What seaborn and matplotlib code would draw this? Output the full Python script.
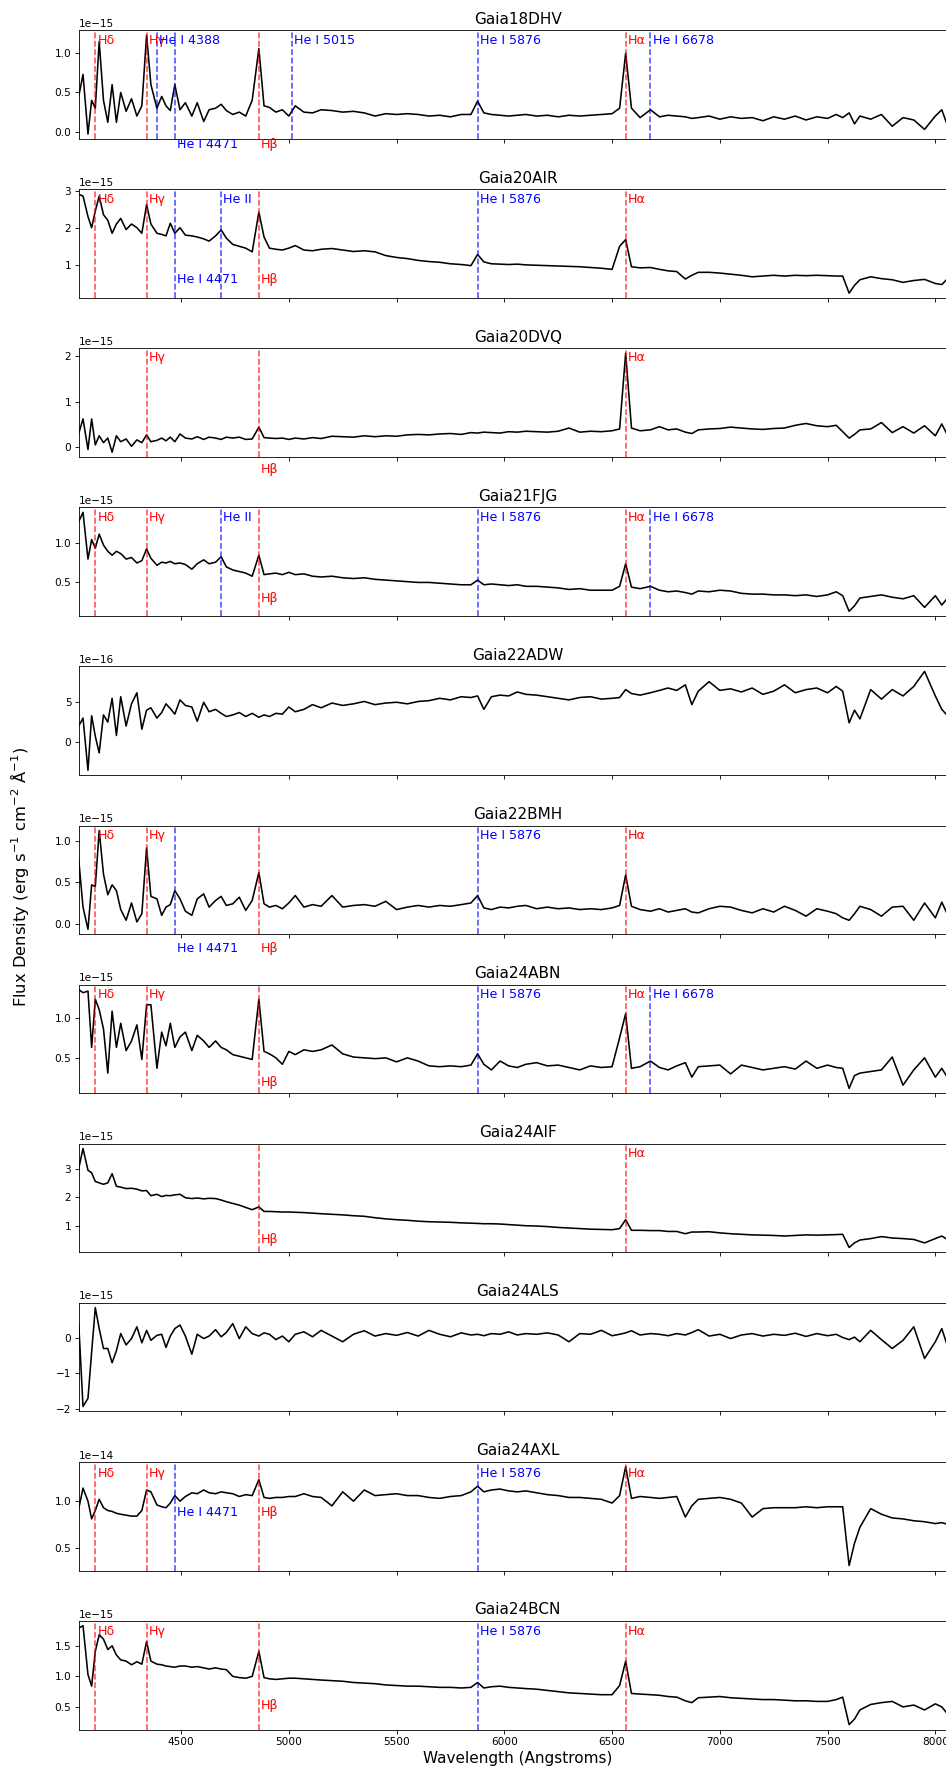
import numpy as np
import matplotlib
matplotlib.use("Agg")
import matplotlib.pyplot as plt
import seaborn as sns

# Wavelength samples (Angstroms) shared by every spectrum
wave = [4025, 4045, 4068, 4085, 4102, 4120, 4140, 4160, 4180, 4200,
        4220, 4245, 4270, 4295, 4318, 4340, 4360, 4388, 4410, 4430,
        4450, 4471, 4495, 4520, 4550, 4575, 4605, 4630, 4660, 4686,
        4710, 4740, 4770, 4800, 4830, 4861, 4885, 4910, 4940, 4970,
        5000, 5030, 5070, 5110, 5150, 5200, 5250, 5300, 5350, 5400,
        5450, 5500, 5550, 5600, 5650, 5700, 5750, 5800, 5845, 5876,
        5905, 5940, 5980, 6020, 6060, 6100, 6150, 6200, 6250, 6300,
        6350, 6400, 6450, 6500, 6535, 6563, 6590, 6630, 6678, 6720,
        6760, 6800, 6840, 6870, 6900, 6950, 7000, 7050, 7100, 7150,
        7200, 7250, 7300, 7350, 7400, 7450, 7500, 7540, 7570, 7600,
        7625, 7650, 7700, 7750, 7800, 7850, 7900, 7950, 8000, 8030, 8060]

# flux values, in units of `units` below
flux_18dhv = [0.45, 0.73, -0.03, 0.40, 0.30, 1.15, 0.40, 0.12, 0.60, 0.12,
              0.50, 0.26, 0.42, 0.20, 0.33, 1.23, 0.60, 0.30, 0.45, 0.33,
              0.27, 0.60, 0.28, 0.37, 0.20, 0.37, 0.13, 0.28, 0.30, 0.35,
              0.27, 0.22, 0.25, 0.20, 0.40, 1.06, 0.33, 0.31, 0.25, 0.28,
              0.20, 0.33, 0.25, 0.24, 0.28, 0.27, 0.25, 0.26, 0.24, 0.20,
              0.23, 0.22, 0.23, 0.22, 0.20, 0.21, 0.19, 0.22, 0.22, 0.39,
              0.24, 0.22, 0.21, 0.20, 0.21, 0.22, 0.20, 0.21, 0.19, 0.21,
              0.20, 0.21, 0.22, 0.23, 0.30, 1.00, 0.30, 0.18, 0.28, 0.19,
              0.21, 0.20, 0.19, 0.17, 0.18, 0.20, 0.16, 0.19, 0.17, 0.18,
              0.14, 0.19, 0.16, 0.20, 0.15, 0.19, 0.17, 0.22, 0.18, 0.24,
              0.10, 0.20, 0.16, 0.22, 0.07, 0.18, 0.15, 0.03, 0.20, 0.28, 0.05]

flux_20air = [2.90, 2.85, 2.30, 2.00, 2.45, 2.85, 2.35, 2.20, 1.85, 2.10,
              2.25, 1.95, 2.10, 2.00, 1.85, 2.62, 2.10, 1.85, 1.82, 1.78,
              2.12, 1.85, 2.00, 1.80, 1.78, 1.75, 1.70, 1.64, 1.78, 1.94,
              1.72, 1.55, 1.50, 1.45, 1.35, 2.42, 1.75, 1.45, 1.42, 1.40,
              1.45, 1.52, 1.40, 1.38, 1.42, 1.44, 1.40, 1.36, 1.38, 1.35,
              1.25, 1.20, 1.17, 1.12, 1.09, 1.07, 1.03, 1.01, 0.98, 1.28,
              1.08, 1.03, 1.02, 1.01, 1.02, 1.00, 0.99, 0.98, 0.97, 0.96,
              0.95, 0.93, 0.91, 0.88, 1.50, 1.68, 0.95, 0.92, 0.93, 0.88,
              0.84, 0.82, 0.62, 0.72, 0.80, 0.80, 0.78, 0.75, 0.72, 0.68,
              0.70, 0.72, 0.70, 0.72, 0.71, 0.72, 0.71, 0.70, 0.70, 0.24,
              0.45, 0.60, 0.68, 0.63, 0.60, 0.53, 0.58, 0.61, 0.50, 0.47, 0.65]

flux_20dvq = [0.30, 0.62, -0.05, 0.62, 0.05, 0.25, 0.10, 0.20, -0.11, 0.25,
              0.12, 0.18, 0.02, 0.16, 0.10, 0.27, 0.12, 0.15, 0.20, 0.14,
              0.22, 0.12, 0.29, 0.20, 0.18, 0.23, 0.17, 0.22, 0.20, 0.17,
              0.22, 0.20, 0.22, 0.17, 0.18, 0.44, 0.21, 0.20, 0.19, 0.20,
              0.17, 0.20, 0.18, 0.21, 0.19, 0.24, 0.23, 0.22, 0.25, 0.23,
              0.25, 0.24, 0.27, 0.28, 0.27, 0.29, 0.30, 0.28, 0.32, 0.31,
              0.33, 0.32, 0.31, 0.34, 0.33, 0.35, 0.34, 0.33, 0.35, 0.42,
              0.33, 0.35, 0.34, 0.36, 0.40, 2.06, 0.42, 0.36, 0.38, 0.45,
              0.38, 0.40, 0.33, 0.30, 0.38, 0.40, 0.41, 0.44, 0.42, 0.40,
              0.39, 0.41, 0.42, 0.48, 0.52, 0.47, 0.45, 0.48, 0.34, 0.20,
              0.28, 0.38, 0.40, 0.54, 0.32, 0.45, 0.31, 0.47, 0.25, 0.51, 0.23]

flux_21fjg = [1.28, 1.40, 0.80, 1.05, 0.94, 1.12, 0.98, 0.90, 0.85, 0.90,
              0.87, 0.80, 0.82, 0.75, 0.78, 0.93, 0.81, 0.72, 0.76, 0.75,
              0.77, 0.74, 0.75, 0.73, 0.67, 0.74, 0.79, 0.74, 0.76, 0.83,
              0.70, 0.66, 0.64, 0.62, 0.58, 0.85, 0.60, 0.61, 0.62, 0.60,
              0.63, 0.60, 0.61, 0.58, 0.57, 0.58, 0.56, 0.55, 0.56, 0.54,
              0.53, 0.52, 0.51, 0.50, 0.50, 0.49, 0.48, 0.47, 0.47, 0.53,
              0.47, 0.48, 0.47, 0.46, 0.47, 0.45, 0.45, 0.44, 0.43, 0.41,
              0.42, 0.40, 0.40, 0.40, 0.45, 0.74, 0.44, 0.42, 0.45, 0.40,
              0.38, 0.39, 0.37, 0.35, 0.39, 0.38, 0.40, 0.39, 0.36, 0.35,
              0.35, 0.34, 0.34, 0.33, 0.34, 0.32, 0.34, 0.38, 0.33, 0.13,
              0.20, 0.30, 0.32, 0.34, 0.31, 0.29, 0.33, 0.18, 0.33, 0.21, 0.31]

flux_22adw = [2.0, 3.0, -3.6, 3.3, 0.7, -1.4, 3.4, 2.5, 5.5, 0.8,
              5.7, 2.0, 4.8, 6.2, 1.6, 4.0, 4.3, 3.0, 3.7, 4.8,
              4.2, 3.5, 5.3, 4.6, 4.4, 2.6, 5.0, 3.8, 4.1, 3.6,
              3.2, 3.4, 3.7, 3.2, 3.6, 3.1, 3.4, 3.2, 3.6, 3.5,
              4.4, 3.8, 4.1, 4.7, 4.3, 4.9, 4.6, 4.8, 5.1, 4.7,
              4.9, 5.0, 4.8, 5.1, 5.2, 5.5, 5.3, 5.7, 5.6, 5.8,
              4.1, 5.7, 5.9, 5.8, 6.3, 6.0, 5.9, 5.7, 5.5, 5.3,
              5.6, 5.7, 5.4, 5.5, 5.6, 6.6, 6.1, 5.9, 6.2, 6.5,
              6.8, 6.5, 7.2, 4.7, 6.4, 7.6, 6.5, 6.7, 6.3, 6.8,
              6.0, 6.4, 7.2, 6.2, 6.6, 6.8, 6.2, 7.0, 6.4, 2.4,
              4.0, 2.9, 6.6, 5.4, 6.6, 5.8, 7.0, 8.9, 5.8, 4.1, 3.2]

flux_22bmh = [0.78, 0.20, -0.07, 0.47, 0.45, 1.13, 0.60, 0.35, 0.47, 0.40,
              0.17, 0.04, 0.25, 0.02, 0.12, 0.92, 0.33, 0.30, 0.10, 0.20,
              0.23, 0.40, 0.30, 0.15, 0.10, 0.30, 0.36, 0.20, 0.28, 0.33,
              0.22, 0.24, 0.32, 0.16, 0.28, 0.62, 0.24, 0.20, 0.22, 0.18,
              0.25, 0.34, 0.20, 0.23, 0.21, 0.34, 0.20, 0.22, 0.23, 0.21,
              0.27, 0.17, 0.20, 0.22, 0.20, 0.22, 0.21, 0.23, 0.25, 0.34,
              0.19, 0.17, 0.20, 0.19, 0.21, 0.22, 0.18, 0.20, 0.18, 0.19,
              0.17, 0.18, 0.17, 0.19, 0.22, 0.59, 0.21, 0.17, 0.15, 0.18,
              0.14, 0.16, 0.18, 0.14, 0.13, 0.18, 0.21, 0.20, 0.16, 0.13,
              0.18, 0.14, 0.21, 0.16, 0.09, 0.18, 0.15, 0.12, 0.07, 0.04,
              0.12, 0.21, 0.17, 0.09, 0.20, 0.21, 0.04, 0.25, 0.07, 0.26, 0.09]

flux_24abn = [1.35, 1.31, 1.33, 0.63, 1.23, 1.10, 0.86, 0.31, 1.08, 0.63,
              0.93, 0.59, 0.71, 0.91, 0.48, 1.16, 1.16, 0.37, 0.82, 0.65,
              0.93, 0.63, 0.76, 0.82, 0.59, 0.78, 0.71, 0.63, 0.71, 0.63,
              0.60, 0.54, 0.52, 0.50, 0.48, 1.23, 0.58, 0.55, 0.50, 0.42,
              0.58, 0.54, 0.60, 0.58, 0.60, 0.66, 0.55, 0.51, 0.50, 0.49,
              0.50, 0.45, 0.50, 0.46, 0.40, 0.39, 0.40, 0.39, 0.41, 0.55,
              0.42, 0.35, 0.46, 0.40, 0.38, 0.42, 0.44, 0.40, 0.41, 0.38,
              0.35, 0.40, 0.38, 0.39, 0.75, 1.05, 0.37, 0.39, 0.46, 0.38,
              0.35, 0.40, 0.44, 0.26, 0.39, 0.40, 0.41, 0.30, 0.41, 0.38,
              0.35, 0.37, 0.39, 0.36, 0.46, 0.37, 0.41, 0.38, 0.37, 0.12,
              0.28, 0.31, 0.33, 0.35, 0.51, 0.16, 0.35, 0.50, 0.26, 0.37, 0.24]

flux_24aif = [3.00, 3.70, 2.94, 2.85, 2.55, 2.50, 2.45, 2.50, 2.82, 2.38,
              2.35, 2.30, 2.31, 2.28, 2.22, 2.23, 2.05, 2.10, 2.02, 2.06,
              2.05, 2.08, 2.10, 1.98, 1.95, 1.97, 1.94, 1.96, 1.95, 1.90,
              1.84, 1.78, 1.72, 1.64, 1.56, 1.66, 1.50, 1.50, 1.49, 1.48,
              1.48, 1.47, 1.46, 1.44, 1.42, 1.40, 1.38, 1.35, 1.33, 1.28,
              1.24, 1.21, 1.19, 1.16, 1.14, 1.13, 1.12, 1.10, 1.09, 1.08,
              1.07, 1.07, 1.06, 1.04, 1.02, 1.00, 0.99, 0.97, 0.94, 0.92,
              0.90, 0.88, 0.87, 0.86, 0.90, 1.21, 0.84, 0.84, 0.83, 0.83,
              0.80, 0.80, 0.72, 0.78, 0.78, 0.79, 0.75, 0.72, 0.70, 0.68,
              0.67, 0.66, 0.64, 0.66, 0.68, 0.67, 0.68, 0.69, 0.70, 0.24,
              0.40, 0.50, 0.55, 0.62, 0.57, 0.55, 0.52, 0.40, 0.55, 0.64, 0.50]

flux_24als = [0.40, -1.93, -1.70, -0.40, 0.85, 0.26, -0.30, -0.30, -0.70, -0.36,
              0.12, -0.20, -0.02, 0.31, -0.14, 0.21, -0.07, 0.07, 0.10, -0.27,
              0.05, 0.26, 0.36, 0.05, -0.46, 0.10, -0.02, 0.05, 0.23, 0.03,
              0.15, 0.40, -0.02, 0.31, 0.12, 0.05, 0.14, 0.10, -0.05, 0.05,
              -0.11, 0.10, 0.17, 0.03, 0.21, 0.05, -0.11, 0.10, 0.20, 0.05,
              0.12, 0.07, 0.15, 0.05, 0.21, 0.10, 0.03, 0.14, 0.08, 0.10,
              0.06, 0.12, 0.10, 0.17, 0.08, 0.12, 0.10, 0.14, 0.08, -0.11,
              0.12, 0.10, 0.21, 0.06, 0.10, 0.14, 0.20, 0.08, 0.12, 0.10,
              0.06, 0.12, 0.08, 0.15, 0.23, 0.05, 0.10, -0.02, 0.08, 0.12,
              0.05, 0.10, 0.07, 0.13, 0.04, 0.12, 0.06, 0.10, 0.01, -0.05,
              0.02, -0.11, 0.21, -0.05, -0.30, -0.07, 0.31, -0.58, -0.11, 0.26, -0.30]

flux_24axl = [0.92, 1.14, 1.00, 0.81, 0.90, 1.02, 0.93, 0.90, 0.89, 0.87,
              0.86, 0.85, 0.84, 0.84, 0.90, 1.12, 1.10, 0.96, 0.94, 0.93,
              0.98, 1.06, 1.00, 1.05, 1.09, 1.08, 1.12, 1.09, 1.08, 1.10,
              1.09, 1.08, 1.05, 1.07, 1.06, 1.23, 1.04, 1.03, 1.04, 1.04,
              1.05, 1.05, 1.08, 1.05, 1.04, 0.95, 1.10, 1.00, 1.12, 1.06,
              1.07, 1.08, 1.06, 1.06, 1.04, 1.03, 1.05, 1.06, 1.10, 1.16,
              1.10, 1.12, 1.13, 1.11, 1.10, 1.11, 1.09, 1.07, 1.06, 1.04,
              1.04, 1.03, 1.02, 0.98, 1.06, 1.37, 1.03, 1.05, 1.04, 1.03,
              1.04, 1.05, 0.83, 0.95, 1.02, 1.03, 1.04, 1.02, 0.98, 0.83,
              0.92, 0.93, 0.93, 0.93, 0.94, 0.93, 0.94, 0.94, 0.94, 0.31,
              0.55, 0.72, 0.92, 0.86, 0.82, 0.81, 0.79, 0.78, 0.76, 0.77, 0.75]

flux_24bcn = [1.79, 1.83, 1.03, 0.84, 1.41, 1.68, 1.61, 1.44, 1.50, 1.35,
              1.27, 1.25, 1.19, 1.24, 1.20, 1.57, 1.25, 1.20, 1.19, 1.17,
              1.16, 1.15, 1.17, 1.17, 1.15, 1.16, 1.14, 1.12, 1.14, 1.12,
              1.11, 1.00, 0.98, 0.97, 1.00, 1.41, 0.98, 0.96, 0.95, 0.96,
              0.97, 0.97, 0.96, 0.95, 0.94, 0.93, 0.92, 0.90, 0.89, 0.88,
              0.86, 0.85, 0.84, 0.84, 0.83, 0.82, 0.82, 0.81, 0.82, 0.90,
              0.81, 0.83, 0.84, 0.82, 0.81, 0.80, 0.79, 0.77, 0.75, 0.73,
              0.72, 0.71, 0.70, 0.70, 0.85, 1.25, 0.72, 0.71, 0.70, 0.69,
              0.67, 0.66, 0.60, 0.57, 0.65, 0.66, 0.67, 0.65, 0.64, 0.63,
              0.62, 0.62, 0.61, 0.60, 0.60, 0.59, 0.59, 0.62, 0.66, 0.21,
              0.30, 0.45, 0.54, 0.57, 0.59, 0.50, 0.53, 0.45, 0.55, 0.50, 0.37]

titles = ["Gaia18DHV", "Gaia20AIR", "Gaia20DVQ", "Gaia21FJG", "Gaia22ADW", "Gaia22BMH",
          "Gaia24ABN", "Gaia24AIF", "Gaia24ALS", "Gaia24AXL", "Gaia24BCN"]
spectra = [flux_18dhv, flux_20air, flux_20dvq, flux_21fjg, flux_22adw, flux_22bmh,
           flux_24abn, flux_24aif, flux_24als, flux_24axl, flux_24bcn]
units = [1e-15, 1e-15, 1e-15, 1e-15, 1e-16, 1e-15, 1e-15, 1e-15, 1e-15, 1e-14, 1e-15]
yticks = [[0, 0.5, 1.0], [1, 2, 3], [0, 1, 2], [0.5, 1.0], [0, 5], [0, 0.5, 1.0],
          [0.5, 1.0], [1, 2, 3], [-2, -1, 0], [0.5, 1.0], [0.5, 1.0, 1.5]]

# emission lines
line_names = ["Hδ", "Hγ", "He I 4388", "He I 4471", "He II", "Hβ",
              "He I 5015", "He I 5876", "Hα", "He I 6678"]
line_waves = [4102, 4340, 4388, 4471, 4686, 4861, 5015, 5876, 6563, 6678]
line_colors = ["red", "red", "blue", "blue", "blue", "red", "blue", "blue", "red", "blue"]
low_names = ["He I 4471", "Hβ"]   # these labels sit at the bottom

marked = [
    ["Hδ", "Hγ", "He I 4388", "He I 4471", "Hβ", "He I 5015", "He I 5876", "Hα", "He I 6678"],
    ["Hδ", "Hγ", "He I 4471", "He II", "Hβ", "He I 5876", "Hα"],
    ["Hγ", "Hβ", "Hα"],
    ["Hδ", "Hγ", "He II", "Hβ", "He I 5876", "Hα", "He I 6678"],
    [],
    ["Hδ", "Hγ", "He I 4471", "Hβ", "He I 5876", "Hα"],
    ["Hδ", "Hγ", "Hβ", "He I 5876", "Hα", "He I 6678"],
    ["Hβ", "Hα"],
    [],
    ["Hδ", "Hγ", "He I 4471", "Hβ", "He I 5876", "Hα"],
    ["Hδ", "Hγ", "Hβ", "He I 5876", "Hα"],
]
low_label_y = [-0.16, 0.61, -0.48, 0.30, 0, -0.30, 0.19, 0.52, 0, 0.88, 0.53]

DPI = 76
fig, axes = plt.subplots(len(titles), 1, figsize=(946 / DPI, 1769 / DPI), dpi=DPI, sharex=True)
fig.subplots_adjust(left=0.0832, right=1.0115, top=0.9829, bottom=0.0223, hspace=0.462)

for i, ax in enumerate(axes):
    flux = np.asarray(spectra[i]) * units[i]
    sns.lineplot(x=wave, y=flux, ax=ax, color="black", linewidth=1.5)
    top_y = 0.95 * flux.max()
    for name in marked[i]:
        k = line_names.index(name)
        ax.axvline(line_waves[k], color=line_colors[k], linestyle="--", alpha=0.7)
        y = low_label_y[i] * units[i] if name in low_names else top_y
        ax.text(line_waves[k] + 10, y, name, color=line_colors[k], fontsize=12,
                ha="left", va="center")
    ax.set_yticks(np.asarray(yticks[i]) * units[i])
    ax.set_title(titles[i], fontsize=14.5)
    ax.set_ylabel("")

axes[-1].set_xlim(4025, 8100)
axes[-1].set_xticks([4500, 5000, 5500, 6000, 6500, 7000, 7500, 8000])
axes[-1].set_xlabel("Wavelength (Angstroms)", fontsize=14.5)
fig.text(0.021, 0.504, "Flux Density (erg s$^{-1}$ cm$^{-2}$ Å$^{-1}$)",
         rotation=90, fontsize=15.5, ha="center", va="center")

fig.savefig("out.png", dpi=DPI)
